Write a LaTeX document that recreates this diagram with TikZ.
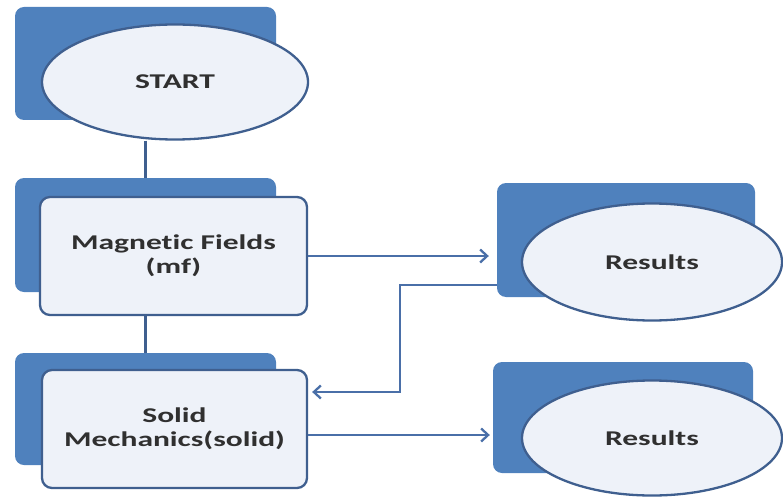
\documentclass[tikz,border=0pt]{standalone}
\usepackage{fontspec}
\setmainfont{Carlito}[FakeStretch=1.5, Ligatures=NoCommon]
\usetikzlibrary{shapes.geometric,arrows.meta}
\definecolor{boxblue}{HTML}{4F81BD}
\definecolor{paleblue}{HTML}{EEF2F9}
\definecolor{edgeblue}{HTML}{3F5F8F}
\definecolor{lineblue}{HTML}{4A6FA8}
\definecolor{inkgray}{HTML}{303030}

\begin{document}
\begin{tikzpicture}[x=1pt,y=-1pt, >={Straight Barb[length=7pt,width=13pt]},
    every node/.style={font=\fontsize{21}{24}\selectfont\bfseries, text=inkgray, align=center},
    back/.style={fill=boxblue, rounded corners=9pt, inner sep=0pt},
    front/.style={draw=edgeblue, line width=2.3pt, fill=paleblue, rounded corners=10pt, inner sep=0pt},
    oval/.style={ellipse, draw=edgeblue, line width=2.3pt, fill=paleblue, inner sep=0pt},
    link/.style={draw=edgeblue, line width=2.4pt},
    flow/.style={draw=lineblue, line width=2.3pt, ->}]
        \useasboundingbox (0,0) rectangle (783,497);
        % left column
        \node[back, minimum width=261pt, minimum height=113pt] (startbg) at (145.5,63.5) {};
        \node[oval, minimum width=266pt, minimum height=115pt] (start) at (175,82) {START};
        \node[back, minimum width=261pt, minimum height=114pt] (mfbg) at (145.5,235) {};
        \node[front, minimum width=267pt, minimum height=118pt] (mf) at (173.5,256) {Magnetic Fields\\(mf)};
        \node[back, minimum width=261pt, minimum height=112pt] (solidbg) at (145.5,409) {};
        \node[front, minimum width=265pt, minimum height=118pt] (solid) at (174.5,429) {Solid\\Mechanics(solid)};
        % right column
        \node[back, minimum width=258pt, minimum height=114pt] (res1bg) at (626,240) {};
        \node[oval, minimum width=260pt, minimum height=117pt] (res1) at (652,262) {Results};
        \node[back, minimum width=260pt, minimum height=111pt] (res2bg) at (623,417.5) {};
        \node[oval, minimum width=260pt, minimum height=115pt] (res2) at (652,438) {Results};
        % connectors
        \draw[link] (mfbg.north |- start.south) -- (mfbg.north);
        \draw[link] (solidbg.north |- mf.south) -- (solidbg.north);
        \draw[flow, shorten >=8pt] (mf.east) -- (mf.east -| res1bg.west);
        \draw[flow, shorten >=4pt] ([yshift=12pt]res1bg.south west) -- ++(-97,0) |- ([yshift=37pt]solid.east);
        \draw[flow, shorten >=3pt] ([yshift=-6pt]solid.east) -- ([yshift=-6pt]solid.east -| res2bg.west);
    \end{tikzpicture}
\end{document}
